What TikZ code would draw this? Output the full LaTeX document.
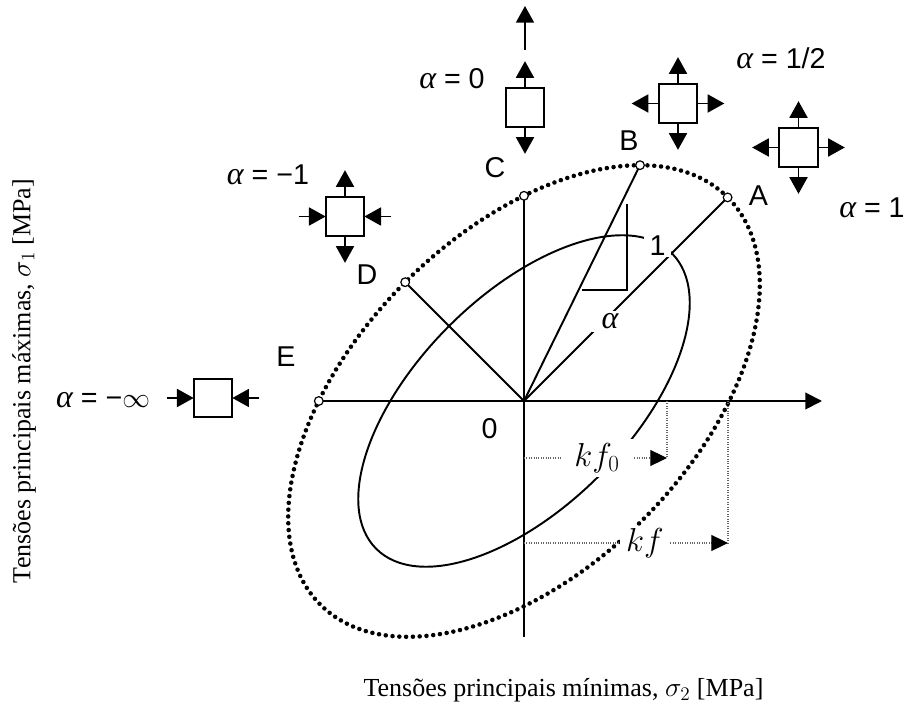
\documentclass[tikz,border=0pt]{standalone}
\usepackage{fontspec}
\setmainfont{Liberation Serif}
\newfontfamily\sflab{Liberation Sans}
\newfontfamily\alfont{Liberation Serif}
\newcommand{\alp}{{\alfont\itshape\fontsize{24}{24}\selectfont α}}
\usetikzlibrary{arrows.meta,calc}
\begin{document}
\begin{tikzpicture}[x=0.75pt,y=0.75pt,
  ax/.style={line width=1.45pt},
  axtip/.style={-{Triangle[length=12.5pt,width=12.5pt]}},
  sbox/.style={draw, line width=1.4pt, minimum size=29pt, inner sep=0pt, outer sep=0pt},
  sarr/.style={line width=1.4pt, -{Triangle[length=12.5pt,width=13.5pt]}},
  ept/.style={circle, draw, fill=white, line width=0.9pt, inner sep=0pt, minimum size=6.5pt},
  lab/.style={font=\sflab\fontsize{21.5}{25}\selectfont, inner sep=1pt},
  mlab/.style={font=\fontsize{23}{27}\selectfont, fill=white},
  guide/.style={gray!80!black, line width=0.8pt, densely dotted},
  gtip/.style={-{Triangle[length=12.5pt,width=12pt,color=black]}},
  axlab/.style={font=\fontsize{19.5}{23}\selectfont, inner sep=0pt}
]
\useasboundingbox (-524,-305) rectangle (385,401);

% coordinates
\coordinate (O) at (0,0);
\coordinate (A) at (203.6,203.6);
\coordinate (B) at (116,235.8);
\coordinate (C) at (0,205.2);
\coordinate (D) at (-118.8,118.8);
\coordinate (E) at (-205.2,0);
\coordinate (xend) at (298,0);
\coordinate (vbot) at (0,-236);

% ellipses
\draw[line width=3.4pt, line cap=round, dash pattern=on 0pt off 5.1pt, rotate=45]
  (O) ellipse [x radius=288, y radius=168];
\draw[line width=1.45pt, rotate=45] (O) ellipse [x radius=209, y radius=106];

% axes and rays
\draw[ax] (C) -- (vbot);
\draw[ax, axtip] (E) -- (xend);
\draw[ax] (O) -- (A);
\draw[ax] (O) -- (B);
\draw[ax] (O) -- (D);

% slope triangle
\coordinate (t1) at (58,111);
\coordinate (t2) at (103,111);
\coordinate (t3) at (103,197);
\draw[line width=1.3pt] (t1) -- (t2) -- (t3);

% guide lines kf0, kf
\coordinate (k0s) at (0,-57);
\coordinate (k0e) at (143,-57);
\coordinate (k0t) at (143,0);
\coordinate (k1s) at (0,-142);
\coordinate (k1e) at (204,-142);
\coordinate (k1t) at (204,0);
\draw[guide] (k0t) -- (k0e);
\draw[guide, gtip] (k0s) -- (k0e);
\draw[guide] (k1t) -- (k1e);
\draw[guide, gtip] (k1s) -- (k1e);

% points on outer ellipse
\node[ept] (pA) at (A) {};
\node[ept] (pB) at (B) {};
\node[ept] (pC) at (C) {};
\node[ept] (pD) at (D) {};
\node[ept] (pE) at (E) {};

% labels on diagram
\node[lab] (lA) at (234.5,205) {A};
\node[lab] (lB) at (105,260) {B};
\node[lab] (lC) at (-29,233) {C};
\node[lab] (lD) at (-157,126) {D};
\node[lab] (lE) at (-238,44) {E};
\node[lab] (l0) at (-34.5,-27.5) {0};
\node[lab, fill=white, inner xsep=4pt] (l1) at (133.5,155.5) {1};
\node[mlab, inner xsep=7pt, inner ysep=2pt] (lal) at (86,79.5) {\alp};
\node[mlab, inner xsep=10pt, inner ysep=3pt] (lk0) at (73,-57) {$kf_0$};
\node[mlab, inner xsep=5pt, inner ysep=2pt] (lk1) at (121,-142) {$kf$};

% stress elements
% alpha = 0
\node[sbox] (b0) at (1,293.5) {};
\draw[sarr] (b0.north) -- ++(0,27);
\draw[sarr] (b0.south) -- ++(0,-27);
\coordinate (ta) at (1,351);
\coordinate (tb) at (1,395);
\draw[sarr] (ta) -- (tb);
\node[lab] (la0) at (-72,322) {\alp{} = 0};

% alpha = 1/2 (near B)
\node[sbox] (b12) at (154,297.5) {};
\draw[sarr] (b12.north) -- ++(0,27);
\draw[sarr] (b12.south) -- ++(0,-27);
\draw[sarr] (b12.east) -- ++(27,0);
\draw[sarr] (b12.west) -- ++(-27,0);
\node[lab] (la12) at (257,343) {\alp{} = 1/2};

% alpha = 1 (near A)
\node[sbox] (b1) at (274.5,253.5) {};
\draw[sarr] (b1.north) -- ++(0,27);
\draw[sarr] (b1.south) -- ++(0,-27);
\draw[sarr] (b1.east) -- ++(27,0);
\draw[sarr] (b1.west) -- ++(-27,0);
\node[lab] (la1) at (348,193) {\alp{} = 1};

% alpha = -1 (near D)
\node[sbox] (bm1) at (-179,184.5) {};
\draw[sarr] (bm1.north) -- ++(0,27);
\draw[sarr] (bm1.south) -- ++(0,-27);
\draw[sarr] ($(bm1.west)+(-27,0)$) -- (bm1.west);
\draw[sarr] ($(bm1.east)+(27,0)$) -- (bm1.east);
\node[lab] (lam1) at (-256,226) {\alp{} = −1};

% alpha = -infinity (near E)
\node[sbox] (bmi) at (-311,3) {};
\draw[sarr] ($(bmi.west)+(-27,0)$) -- (bmi.west);
\draw[sarr] ($(bmi.east)+(27,0)$) -- (bmi.east);
\node[lab] (lami) at (-421,1) {\alp{} = −$\infty$};

% axis titles
\node[axlab] (xl) at (39.5,-289) {Tensões principais mínimas, $\sigma_2$ [MPa]};
\node[axlab, rotate=90] (yl) at (-500,20) {Tensões principais máximas, $\sigma_1$ [MPa]};
\end{tikzpicture}
\end{document}
